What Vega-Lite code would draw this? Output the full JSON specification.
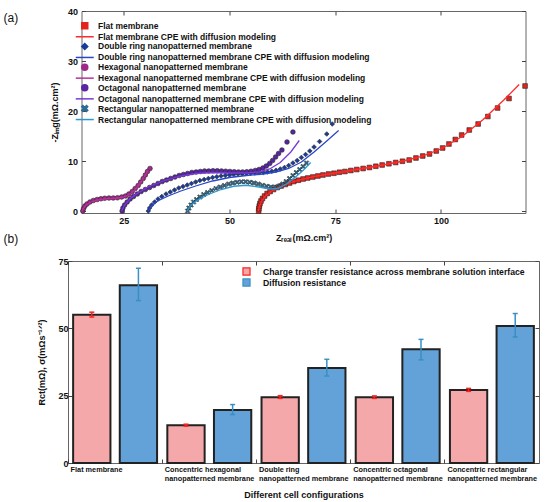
{
"$schema": "https://vega.github.io/schema/vega-lite/v6.json",
"padding": {"left": 2, "top": 6, "right": 0, "bottom": 0},
"bounds": "flush",
"center": true,
"spacing": 48,
"resolve": {"scale": {"color": "independent", "fill": "independent", "shape": "independent"}, "legend": {"color": "independent", "fill": "independent", "shape": "independent"}},
"config": {
 "font": "Liberation Sans",
 "view": {"stroke": "#666", "strokeWidth": 1},
 "axis": {"grid": false, "domain": false, "tickColor": "#444", "labelColor": "#111", "titleColor": "#111", "labelFont": "Liberation Sans", "titleFont": "Liberation Sans", "labelFontWeight": "bold", "titleFontWeight": "bold"}
},
"datasets": {
 "pts": [
  {"s":"Flat membrane","x":56.9,"y":0},{"s":"Flat membrane","x":56.95,"y":0.5},{"s":"Flat membrane","x":57.05,"y":1},{"s":"Flat membrane","x":57.2,"y":1.5},{"s":"Flat membrane","x":57.45,"y":2},{"s":"Flat membrane","x":57.8,"y":2.5},{"s":"Flat membrane","x":58.3,"y":3},{"s":"Flat membrane","x":58.9,"y":3.5},{"s":"Flat membrane","x":59.6,"y":3.9},{"s":"Flat membrane","x":60.4,"y":4.3},{"s":"Flat membrane","x":61.3,"y":4.7},{"s":"Flat membrane","x":62.2,"y":5},{"s":"Flat membrane","x":63.2,"y":5.3},{"s":"Flat membrane","x":64.2,"y":5.6},{"s":"Flat membrane","x":65.2,"y":5.9},{"s":"Flat membrane","x":66.3,"y":6.15},{"s":"Flat membrane","x":67.4,"y":6.4},{"s":"Flat membrane","x":68.5,"y":6.6},{"s":"Flat membrane","x":69.7,"y":6.8},{"s":"Flat membrane","x":70.9,"y":7},{"s":"Flat membrane","x":72.1,"y":7.2},{"s":"Flat membrane","x":73.4,"y":7.4},{"s":"Flat membrane","x":74.7,"y":7.55},{"s":"Flat membrane","x":76,"y":7.75},{"s":"Flat membrane","x":77.3,"y":7.9},{"s":"Flat membrane","x":78.7,"y":8.1},{"s":"Flat membrane","x":80.1,"y":8.3},{"s":"Flat membrane","x":81.6,"y":8.5},{"s":"Flat membrane","x":83.1,"y":8.7},{"s":"Flat membrane","x":84.6,"y":8.95},{"s":"Flat membrane","x":86.1,"y":9.2},{"s":"Flat membrane","x":87.7,"y":9.45},{"s":"Flat membrane","x":89.3,"y":9.7},{"s":"Flat membrane","x":90.9,"y":9.95},{"s":"Flat membrane","x":92.5,"y":10.2},{"s":"Flat membrane","x":94.1,"y":10.6},{"s":"Flat membrane","x":95.7,"y":11},{"s":"Flat membrane","x":97.3,"y":11.4},{"s":"Flat membrane","x":98.9,"y":12},{"s":"Flat membrane","x":100.4,"y":12.6},{"s":"Flat membrane","x":101.9,"y":13.4},{"s":"Flat membrane","x":103.4,"y":14.3},{"s":"Flat membrane","x":104.9,"y":15.2},{"s":"Flat membrane","x":106.7,"y":16.2},{"s":"Flat membrane","x":108.8,"y":17.4},{"s":"Flat membrane","x":111.1,"y":18.9},{"s":"Flat membrane","x":113.4,"y":20.6},{"s":"Flat membrane","x":116.1,"y":22.5},{"s":"Flat membrane","x":119.9,"y":25},
  {"s":"Double ring nanopatterned membrane","x":30.8,"y":0},{"s":"Double ring nanopatterned membrane","x":31.1,"y":0.6},{"s":"Double ring nanopatterned membrane","x":31.6,"y":1.2},{"s":"Double ring nanopatterned membrane","x":32.3,"y":1.8},{"s":"Double ring nanopatterned membrane","x":33.1,"y":2.4},{"s":"Double ring nanopatterned membrane","x":34,"y":2.9},{"s":"Double ring nanopatterned membrane","x":35,"y":3.4},{"s":"Double ring nanopatterned membrane","x":36,"y":3.8},{"s":"Double ring nanopatterned membrane","x":37,"y":4.2},{"s":"Double ring nanopatterned membrane","x":38,"y":4.6},{"s":"Double ring nanopatterned membrane","x":39,"y":4.9},{"s":"Double ring nanopatterned membrane","x":40,"y":5.2},{"s":"Double ring nanopatterned membrane","x":41,"y":5.5},{"s":"Double ring nanopatterned membrane","x":42,"y":5.8},{"s":"Double ring nanopatterned membrane","x":43,"y":6.1},{"s":"Double ring nanopatterned membrane","x":44,"y":6.3},{"s":"Double ring nanopatterned membrane","x":45,"y":6.5},{"s":"Double ring nanopatterned membrane","x":46,"y":6.7},{"s":"Double ring nanopatterned membrane","x":47,"y":6.85},{"s":"Double ring nanopatterned membrane","x":48,"y":7},{"s":"Double ring nanopatterned membrane","x":49,"y":7.1},{"s":"Double ring nanopatterned membrane","x":50,"y":7.2},{"s":"Double ring nanopatterned membrane","x":51,"y":7.3},{"s":"Double ring nanopatterned membrane","x":52,"y":7.4},{"s":"Double ring nanopatterned membrane","x":53,"y":7.45},{"s":"Double ring nanopatterned membrane","x":54,"y":7.5},{"s":"Double ring nanopatterned membrane","x":55,"y":7.55},{"s":"Double ring nanopatterned membrane","x":56,"y":7.6},{"s":"Double ring nanopatterned membrane","x":57,"y":7.65},{"s":"Double ring nanopatterned membrane","x":58,"y":7.7},{"s":"Double ring nanopatterned membrane","x":59,"y":7.8},{"s":"Double ring nanopatterned membrane","x":60,"y":7.95},{"s":"Double ring nanopatterned membrane","x":61,"y":8.15},{"s":"Double ring nanopatterned membrane","x":62,"y":8.4},{"s":"Double ring nanopatterned membrane","x":63,"y":8.7},{"s":"Double ring nanopatterned membrane","x":64,"y":9.1},{"s":"Double ring nanopatterned membrane","x":65,"y":9.6},{"s":"Double ring nanopatterned membrane","x":66,"y":10.1},{"s":"Double ring nanopatterned membrane","x":67,"y":10.7},{"s":"Double ring nanopatterned membrane","x":68,"y":11.3},{"s":"Double ring nanopatterned membrane","x":69,"y":12},{"s":"Double ring nanopatterned membrane","x":70,"y":12.8},{"s":"Double ring nanopatterned membrane","x":71.3,"y":13.9},{"s":"Double ring nanopatterned membrane","x":73,"y":15.4},{"s":"Double ring nanopatterned membrane","x":74.3,"y":17.4},
  {"s":"Hexagonal nanopatterned membrane","x":15.3,"y":0},{"s":"Hexagonal nanopatterned membrane","x":15.5,"y":0.5},{"s":"Hexagonal nanopatterned membrane","x":15.8,"y":1},{"s":"Hexagonal nanopatterned membrane","x":16.3,"y":1.4},{"s":"Hexagonal nanopatterned membrane","x":17,"y":1.8},{"s":"Hexagonal nanopatterned membrane","x":17.8,"y":2.1},{"s":"Hexagonal nanopatterned membrane","x":18.7,"y":2.3},{"s":"Hexagonal nanopatterned membrane","x":19.6,"y":2.45},{"s":"Hexagonal nanopatterned membrane","x":20.5,"y":2.55},{"s":"Hexagonal nanopatterned membrane","x":21.5,"y":2.6},{"s":"Hexagonal nanopatterned membrane","x":22.5,"y":2.6},{"s":"Hexagonal nanopatterned membrane","x":23.5,"y":2.65},{"s":"Hexagonal nanopatterned membrane","x":24.5,"y":2.8},{"s":"Hexagonal nanopatterned membrane","x":25.4,"y":3},{"s":"Hexagonal nanopatterned membrane","x":26.2,"y":3.4},{"s":"Hexagonal nanopatterned membrane","x":27,"y":3.9},{"s":"Hexagonal nanopatterned membrane","x":27.7,"y":4.5},{"s":"Hexagonal nanopatterned membrane","x":28.4,"y":5.1},{"s":"Hexagonal nanopatterned membrane","x":29,"y":5.8},{"s":"Hexagonal nanopatterned membrane","x":29.6,"y":6.5},{"s":"Hexagonal nanopatterned membrane","x":30.1,"y":7.2},{"s":"Hexagonal nanopatterned membrane","x":30.6,"y":7.9},{"s":"Hexagonal nanopatterned membrane","x":31.2,"y":8.5},
  {"s":"Octagonal nanopatterned membrane","x":24.6,"y":0},{"s":"Octagonal nanopatterned membrane","x":24.8,"y":0.6},{"s":"Octagonal nanopatterned membrane","x":25.2,"y":1.2},{"s":"Octagonal nanopatterned membrane","x":25.8,"y":1.8},{"s":"Octagonal nanopatterned membrane","x":26.5,"y":2.4},{"s":"Octagonal nanopatterned membrane","x":27.3,"y":2.9},{"s":"Octagonal nanopatterned membrane","x":28.2,"y":3.4},{"s":"Octagonal nanopatterned membrane","x":29.1,"y":3.9},{"s":"Octagonal nanopatterned membrane","x":30.1,"y":4.3},{"s":"Octagonal nanopatterned membrane","x":31.1,"y":4.7},{"s":"Octagonal nanopatterned membrane","x":32.1,"y":5.1},{"s":"Octagonal nanopatterned membrane","x":33.1,"y":5.5},{"s":"Octagonal nanopatterned membrane","x":34.1,"y":5.9},{"s":"Octagonal nanopatterned membrane","x":35.1,"y":6.2},{"s":"Octagonal nanopatterned membrane","x":36.1,"y":6.5},{"s":"Octagonal nanopatterned membrane","x":37.1,"y":6.8},{"s":"Octagonal nanopatterned membrane","x":38.1,"y":7.1},{"s":"Octagonal nanopatterned membrane","x":39.1,"y":7.3},{"s":"Octagonal nanopatterned membrane","x":40.1,"y":7.5},{"s":"Octagonal nanopatterned membrane","x":41.1,"y":7.7},{"s":"Octagonal nanopatterned membrane","x":42.1,"y":7.8},{"s":"Octagonal nanopatterned membrane","x":43.1,"y":7.9},{"s":"Octagonal nanopatterned membrane","x":44.1,"y":8},{"s":"Octagonal nanopatterned membrane","x":45.1,"y":8},{"s":"Octagonal nanopatterned membrane","x":46.1,"y":8.05},{"s":"Octagonal nanopatterned membrane","x":47.1,"y":8.05},{"s":"Octagonal nanopatterned membrane","x":48.1,"y":8},{"s":"Octagonal nanopatterned membrane","x":49.1,"y":7.95},{"s":"Octagonal nanopatterned membrane","x":50.1,"y":7.9},{"s":"Octagonal nanopatterned membrane","x":51.1,"y":7.85},{"s":"Octagonal nanopatterned membrane","x":52.1,"y":7.8},{"s":"Octagonal nanopatterned membrane","x":53.1,"y":7.8},{"s":"Octagonal nanopatterned membrane","x":54.1,"y":7.85},{"s":"Octagonal nanopatterned membrane","x":55.1,"y":7.95},{"s":"Octagonal nanopatterned membrane","x":56.1,"y":8.1},{"s":"Octagonal nanopatterned membrane","x":57,"y":8.3},{"s":"Octagonal nanopatterned membrane","x":57.9,"y":8.6},{"s":"Octagonal nanopatterned membrane","x":58.7,"y":9},{"s":"Octagonal nanopatterned membrane","x":59.5,"y":9.5},{"s":"Octagonal nanopatterned membrane","x":60.2,"y":10.1},{"s":"Octagonal nanopatterned membrane","x":60.9,"y":10.8},{"s":"Octagonal nanopatterned membrane","x":61.6,"y":11.5},{"s":"Octagonal nanopatterned membrane","x":62.4,"y":12.2},{"s":"Octagonal nanopatterned membrane","x":63.6,"y":13.8},{"s":"Octagonal nanopatterned membrane","x":65,"y":15.8},
  {"s":"Rectangular nanopatterned membrane","x":40.1,"y":0},{"s":"Rectangular nanopatterned membrane","x":40.4,"y":0.6},{"s":"Rectangular nanopatterned membrane","x":40.9,"y":1.2},{"s":"Rectangular nanopatterned membrane","x":41.5,"y":1.8},{"s":"Rectangular nanopatterned membrane","x":42.2,"y":2.3},{"s":"Rectangular nanopatterned membrane","x":43,"y":2.8},{"s":"Rectangular nanopatterned membrane","x":43.9,"y":3.3},{"s":"Rectangular nanopatterned membrane","x":44.8,"y":3.7},{"s":"Rectangular nanopatterned membrane","x":45.8,"y":4.1},{"s":"Rectangular nanopatterned membrane","x":46.8,"y":4.5},{"s":"Rectangular nanopatterned membrane","x":47.8,"y":4.8},{"s":"Rectangular nanopatterned membrane","x":48.8,"y":5.1},{"s":"Rectangular nanopatterned membrane","x":49.8,"y":5.4},{"s":"Rectangular nanopatterned membrane","x":50.8,"y":5.6},{"s":"Rectangular nanopatterned membrane","x":51.8,"y":5.75},{"s":"Rectangular nanopatterned membrane","x":52.8,"y":5.85},{"s":"Rectangular nanopatterned membrane","x":53.8,"y":5.85},{"s":"Rectangular nanopatterned membrane","x":54.8,"y":5.75},{"s":"Rectangular nanopatterned membrane","x":55.8,"y":5.6},{"s":"Rectangular nanopatterned membrane","x":56.8,"y":5.4},{"s":"Rectangular nanopatterned membrane","x":57.8,"y":5.15},{"s":"Rectangular nanopatterned membrane","x":58.8,"y":4.95},{"s":"Rectangular nanopatterned membrane","x":59.8,"y":4.8},{"s":"Rectangular nanopatterned membrane","x":60.8,"y":4.8},{"s":"Rectangular nanopatterned membrane","x":61.8,"y":5},{"s":"Rectangular nanopatterned membrane","x":62.6,"y":5.4},{"s":"Rectangular nanopatterned membrane","x":63.4,"y":5.9},{"s":"Rectangular nanopatterned membrane","x":64.2,"y":6.5},{"s":"Rectangular nanopatterned membrane","x":65,"y":7.1},{"s":"Rectangular nanopatterned membrane","x":65.8,"y":7.7},{"s":"Rectangular nanopatterned membrane","x":66.6,"y":8.3},{"s":"Rectangular nanopatterned membrane","x":67.4,"y":8.9},{"s":"Rectangular nanopatterned membrane","x":68.2,"y":9.6}
 ],
 "fits": [
  {"s":"Flat membrane CPE with diffusion modeling","x":56.8,"y":0},{"s":"Flat membrane CPE with diffusion modeling","x":57.1,"y":1},{"s":"Flat membrane CPE with diffusion modeling","x":57.6,"y":2},{"s":"Flat membrane CPE with diffusion modeling","x":58.5,"y":3},{"s":"Flat membrane CPE with diffusion modeling","x":60,"y":4},{"s":"Flat membrane CPE with diffusion modeling","x":62.3,"y":5},{"s":"Flat membrane CPE with diffusion modeling","x":65.5,"y":6},{"s":"Flat membrane CPE with diffusion modeling","x":70,"y":6.9},{"s":"Flat membrane CPE with diffusion modeling","x":75,"y":7.6},{"s":"Flat membrane CPE with diffusion modeling","x":80,"y":8.3},{"s":"Flat membrane CPE with diffusion modeling","x":85,"y":9},{"s":"Flat membrane CPE with diffusion modeling","x":90,"y":9.8},{"s":"Flat membrane CPE with diffusion modeling","x":95,"y":10.8},{"s":"Flat membrane CPE with diffusion modeling","x":100,"y":12.4},{"s":"Flat membrane CPE with diffusion modeling","x":105,"y":14.9},{"s":"Flat membrane CPE with diffusion modeling","x":110,"y":18.3},{"s":"Flat membrane CPE with diffusion modeling","x":115,"y":22.3},{"s":"Flat membrane CPE with diffusion modeling","x":118.5,"y":25.3},
  {"s":"Double ring nanopatterned membrane CPE with diffusion modeling","x":30.8,"y":0},{"s":"Double ring nanopatterned membrane CPE with diffusion modeling","x":31.5,"y":1},{"s":"Double ring nanopatterned membrane CPE with diffusion modeling","x":33,"y":2},{"s":"Double ring nanopatterned membrane CPE with diffusion modeling","x":35.5,"y":3},{"s":"Double ring nanopatterned membrane CPE with diffusion modeling","x":38.5,"y":4},{"s":"Double ring nanopatterned membrane CPE with diffusion modeling","x":42,"y":5},{"s":"Double ring nanopatterned membrane CPE with diffusion modeling","x":46,"y":6},{"s":"Double ring nanopatterned membrane CPE with diffusion modeling","x":50,"y":6.7},{"s":"Double ring nanopatterned membrane CPE with diffusion modeling","x":54,"y":7.1},{"s":"Double ring nanopatterned membrane CPE with diffusion modeling","x":58,"y":7.4},{"s":"Double ring nanopatterned membrane CPE with diffusion modeling","x":61,"y":7.8},{"s":"Double ring nanopatterned membrane CPE with diffusion modeling","x":64,"y":8.5},{"s":"Double ring nanopatterned membrane CPE with diffusion modeling","x":67,"y":9.8},{"s":"Double ring nanopatterned membrane CPE with diffusion modeling","x":70,"y":11.8},{"s":"Double ring nanopatterned membrane CPE with diffusion modeling","x":73,"y":14},{"s":"Double ring nanopatterned membrane CPE with diffusion modeling","x":75.8,"y":16.1},
  {"s":"Hexagonal nanopatterned membrane CPE with diffusion modeling","x":15.2,"y":0},{"s":"Hexagonal nanopatterned membrane CPE with diffusion modeling","x":15.5,"y":0.6},{"s":"Hexagonal nanopatterned membrane CPE with diffusion modeling","x":16.1,"y":1.2},{"s":"Hexagonal nanopatterned membrane CPE with diffusion modeling","x":17.2,"y":1.8},{"s":"Hexagonal nanopatterned membrane CPE with diffusion modeling","x":18.8,"y":2.2},{"s":"Hexagonal nanopatterned membrane CPE with diffusion modeling","x":21,"y":2.45},{"s":"Hexagonal nanopatterned membrane CPE with diffusion modeling","x":23,"y":2.55},{"s":"Hexagonal nanopatterned membrane CPE with diffusion modeling","x":24.8,"y":2.75},{"s":"Hexagonal nanopatterned membrane CPE with diffusion modeling","x":26.3,"y":3.3},{"s":"Hexagonal nanopatterned membrane CPE with diffusion modeling","x":27.6,"y":4.2},{"s":"Hexagonal nanopatterned membrane CPE with diffusion modeling","x":28.8,"y":5.5},{"s":"Hexagonal nanopatterned membrane CPE with diffusion modeling","x":29.8,"y":6.8},{"s":"Hexagonal nanopatterned membrane CPE with diffusion modeling","x":30.8,"y":8.2},
  {"s":"Octagonal nanopatterned membrane CPE with diffusion modeling","x":24.5,"y":0},{"s":"Octagonal nanopatterned membrane CPE with diffusion modeling","x":25.2,"y":1.2},{"s":"Octagonal nanopatterned membrane CPE with diffusion modeling","x":26.4,"y":2.4},{"s":"Octagonal nanopatterned membrane CPE with diffusion modeling","x":28.3,"y":3.6},{"s":"Octagonal nanopatterned membrane CPE with diffusion modeling","x":30.8,"y":4.8},{"s":"Octagonal nanopatterned membrane CPE with diffusion modeling","x":34,"y":5.9},{"s":"Octagonal nanopatterned membrane CPE with diffusion modeling","x":38,"y":6.9},{"s":"Octagonal nanopatterned membrane CPE with diffusion modeling","x":42,"y":7.5},{"s":"Octagonal nanopatterned membrane CPE with diffusion modeling","x":46,"y":7.7},{"s":"Octagonal nanopatterned membrane CPE with diffusion modeling","x":50,"y":7.6},{"s":"Octagonal nanopatterned membrane CPE with diffusion modeling","x":54,"y":7.6},{"s":"Octagonal nanopatterned membrane CPE with diffusion modeling","x":57,"y":7.8},{"s":"Octagonal nanopatterned membrane CPE with diffusion modeling","x":59.5,"y":8.4},{"s":"Octagonal nanopatterned membrane CPE with diffusion modeling","x":62,"y":9.7},{"s":"Octagonal nanopatterned membrane CPE with diffusion modeling","x":64.5,"y":11.8},{"s":"Octagonal nanopatterned membrane CPE with diffusion modeling","x":66.5,"y":14.1},
  {"s":"Rectangular nanopatterned membrane CPE with diffusion modeling","x":40,"y":0},{"s":"Rectangular nanopatterned membrane CPE with diffusion modeling","x":40.8,"y":1.1},{"s":"Rectangular nanopatterned membrane CPE with diffusion modeling","x":42.5,"y":2.2},{"s":"Rectangular nanopatterned membrane CPE with diffusion modeling","x":45,"y":3.3},{"s":"Rectangular nanopatterned membrane CPE with diffusion modeling","x":48,"y":4.3},{"s":"Rectangular nanopatterned membrane CPE with diffusion modeling","x":51,"y":4.95},{"s":"Rectangular nanopatterned membrane CPE with diffusion modeling","x":54,"y":5.15},{"s":"Rectangular nanopatterned membrane CPE with diffusion modeling","x":57,"y":4.8},{"s":"Rectangular nanopatterned membrane CPE with diffusion modeling","x":59.5,"y":4.4},{"s":"Rectangular nanopatterned membrane CPE with diffusion modeling","x":61.5,"y":4.5},{"s":"Rectangular nanopatterned membrane CPE with diffusion modeling","x":63.5,"y":5.4},{"s":"Rectangular nanopatterned membrane CPE with diffusion modeling","x":65.5,"y":6.7},{"s":"Rectangular nanopatterned membrane CPE with diffusion modeling","x":67.5,"y":8.2},{"s":"Rectangular nanopatterned membrane CPE with diffusion modeling","x":69.2,"y":9.7}
 ],
 "bars": [
  {"cfg":"Flat membrane","t":"Charge transfer resistance across membrane solution interface","v":55,"lo":54.2,"hi":56},
  {"cfg":"Flat membrane","t":"Diffusion resistance","v":66,"lo":60.3,"hi":72.3},
  {"cfg":"Concentric hexagonal nanopatterned membrane","t":"Charge transfer resistance across membrane solution interface","v":14,"lo":13.7,"hi":14.4},
  {"cfg":"Concentric hexagonal nanopatterned membrane","t":"Diffusion resistance","v":19.7,"lo":18,"hi":21.7},
  {"cfg":"Double ring nanopatterned membrane","t":"Charge transfer resistance across membrane solution interface","v":24.4,"lo":24,"hi":25},
  {"cfg":"Double ring nanopatterned membrane","t":"Diffusion resistance","v":35.3,"lo":32.3,"hi":38.5},
  {"cfg":"Concentric octagonal nanopatterned membrane","t":"Charge transfer resistance across membrane solution interface","v":24.4,"lo":24,"hi":24.9},
  {"cfg":"Concentric octagonal nanopatterned membrane","t":"Diffusion resistance","v":42.2,"lo":38.3,"hi":45.9},
  {"cfg":"Concentric rectangular nanopatterned membrane","t":"Charge transfer resistance across membrane solution interface","v":27.1,"lo":26.6,"hi":27.7},
  {"cfg":"Concentric rectangular nanopatterned membrane","t":"Diffusion resistance","v":50.9,"lo":46.8,"hi":55.5}
 ]
},
"vconcat": [
 {
  "width": 444, "height": 202,
  "title": {"text": "(a)", "anchor": "start", "frame": "group", "orient": "top", "fontSize": 12, "fontWeight": "normal", "font": "Liberation Sans", "color": "#111", "baseline": "middle", "offset": 0, "dx": -78, "dy": 23},
  "layer": [
   {
    "data": {"name": "pts"},
    "mark": {"type": "point", "filled": true, "size": 22, "stroke": "#222", "strokeWidth": 0.6, "opacity": 1},
    "encoding": {
     "x": {"field": "x", "type": "quantitative", "scale": {"domain": [15, 120], "nice": false, "zero": false},
       "axis": {"orient": "bottom", "values": [25, 50, 75, 100], "title": "Zᵣₑₐₗ(mΩ.cm²)", "tickSize": -4, "labelPadding": 7, "labelFontSize": 9, "titleFontSize": 9, "titlePadding": 8}},
     "y": {"field": "y", "type": "quantitative", "scale": {"domain": [-0.4, 40], "nice": false, "zero": false},
       "axis": {"orient": "left", "values": [0, 10, 20, 30, 40], "title": "-Zᵢₘg(mΩ.cm²)", "tickSize": -4, "labelPadding": 8, "labelFontSize": 9, "titleFontSize": 9, "titlePadding": 8}},
     "color": {"field": "s", "type": "nominal",
       "scale": {"domain": ["Flat membrane","Flat membrane CPE with diffusion modeling","Double ring nanopatterned membrane","Double ring nanopatterned membrane CPE with diffusion modeling","Hexagonal nanopatterned membrane","Hexagonal nanopatterned membrane CPE with diffusion modeling","Octagonal nanopatterned membrane","Octagonal nanopatterned membrane CPE with diffusion modeling","Rectangular nanopatterned membrane","Rectangular nanopatterned membrane CPE with diffusion modeling"],
                 "range": ["#e3231c","#ff2a2a","#1b3b9b","#2848c8","#a1288b","#b8329c","#5a25a5","#7a3ad6","#2b6c94","#2c98cf"]},
       "legend": {"title": null, "orient": "none", "legendX": -1, "legendY": 10.5, "padding": 0, "labelFont": "Liberation Sans", "labelFontSize": 8.5, "labelFontWeight": "bold", "labelColor": "#111", "labelLimit": 400, "symbolSize": 36, "rowPadding": -1.3, "labelOffset": 9, "symbolOpacity": 1,
         "encode": {"symbols": {"update": {
           "fill": [{"test": "indexof(datum.value,'CPE')>=0", "value": "transparent"}, {"scale": "color", "field": "value"}],
           "stroke": [{"test": "indexof(datum.value,'CPE')>=0", "scale": "color", "field": "value"}, {"value": "#222"}],
           "strokeWidth": [{"test": "indexof(datum.value,'CPE')>=0", "value": 1.6}, {"value": 0.6}]}}}}},
     "shape": {"field": "s", "type": "nominal",
       "scale": {"domain": ["Flat membrane","Flat membrane CPE with diffusion modeling","Double ring nanopatterned membrane","Double ring nanopatterned membrane CPE with diffusion modeling","Hexagonal nanopatterned membrane","Hexagonal nanopatterned membrane CPE with diffusion modeling","Octagonal nanopatterned membrane","Octagonal nanopatterned membrane CPE with diffusion modeling","Rectangular nanopatterned membrane","Rectangular nanopatterned membrane CPE with diffusion modeling"],
                 "range": ["square","M-3,0L3,0","diamond","M-3,0L3,0","circle","M-3,0L3,0","circle","M-3,0L3,0","M-1,-0.6L-0.6,-1L0,-0.4L0.6,-1L1,-0.6L0.4,0L1,0.6L0.6,1L0,0.4L-0.6,1L-1,0.6L-0.4,0Z","M-3,0L3,0"]},
       "legend": {"title": null, "orient": "none", "legendX": -1, "legendY": 10.5, "padding": 0, "labelFont": "Liberation Sans", "labelFontSize": 8.5, "labelFontWeight": "bold", "labelColor": "#111", "labelLimit": 400, "symbolSize": 36, "rowPadding": -1.3, "labelOffset": 9, "symbolOpacity": 1}}
    }
   },
   {
    "data": {"name": "fits"},
    "mark": {"type": "line", "strokeWidth": 1.3},
    "encoding": {
     "x": {"field": "x", "type": "quantitative", "axis": null},
     "y": {"field": "y", "type": "quantitative", "axis": null},
     "color": {"field": "s", "type": "nominal", "legend": null}
    }
   },
   {
    "data": {"values": [{}]},
    "mark": {"type": "point", "opacity": 0},
    "encoding": {
     "x": {"datum": 50, "type": "quantitative", "axis": {"orient": "top", "values": [25, 50, 75, 100], "labels": false, "title": null, "tickSize": -4}},
     "y": {"datum": 10, "type": "quantitative", "axis": {"orient": "right", "values": [0, 10, 20, 30, 40], "labels": false, "title": null, "tickSize": -4}}
    }
   }
  ],
  "resolve": {"axis": {"x": "independent", "y": "independent"}}
 },
 {
  "width": 471, "height": 202,
  "data": {"name": "bars"},
  "layer": [
   {
    "mark": {"type": "bar", "stroke": "#222", "strokeWidth": 2},
    "encoding": {
     "x": {"field": "cfg", "type": "nominal", "sort": null, "scale": {"paddingInner": 0, "paddingOuter": 0},
       "axis": {"orient": "bottom", "title": "Different cell configurations", "bandPosition": 0, "labelAngle": 0, "labelAlign": "left", "labelBaseline": "top", "labelOffset": -44.5, "labelPadding": 6, "tickSize": -4, "labelFontSize": 7.3, "labelLineHeight": 9.5, "labelOverlap": false, "labelBound": false, "labelLimit": 200, "titleFontSize": 9, "titlePadding": 9,
         "labelExpr": "indexof(datum.label,' nanopatterned')>0 ? [substring(datum.label,0,indexof(datum.label,' nanopatterned')), 'nanopatterned membrane'] : datum.label"}},
     "xOffset": {"field": "t", "type": "nominal", "sort": null, "scale": {"paddingInner": 0.2, "paddingOuter": 0.11}},
     "y": {"field": "v", "type": "quantitative", "scale": {"domain": [0, 75], "nice": false},
       "axis": {"orient": "left", "values": [0, 25, 50, 75], "title": "Rct(mΩ), σ(mΩs⁻¹ᐟ²)", "tickSize": -4, "labelPadding": 4, "labelFontSize": 9, "titleFontSize": 9, "titlePadding": 11}},
     "fill": {"field": "t", "type": "nominal", "sort": null,
       "scale": {"domain": ["Charge transfer resistance across membrane solution interface", "Diffusion resistance"], "range": ["#f5a8aa", "#62a2d8"]},
       "legend": {"title": null, "orient": "none", "legendX": 174, "legendY": 6, "padding": 0, "symbolType": "square", "symbolSize": 50, "symbolStrokeColor": "#222", "symbolStrokeWidth": 1.2, "symbolOpacity": 1, "labelFont": "Liberation Sans", "labelFontSize": 8.7, "labelFontWeight": "bold", "labelColor": "#111", "labelLimit": 400, "rowPadding": -3.5, "labelOffset": 12}}
    }
   },
   {
    "mark": {"type": "rule", "strokeWidth": 1.5},
    "encoding": {
     "x": {"field": "cfg", "type": "nominal", "sort": null, "axis": null},
     "xOffset": {"field": "t", "type": "nominal", "sort": null},
     "y": {"field": "lo", "type": "quantitative", "axis": null},
     "y2": {"field": "hi"},
     "color": {"field": "t", "type": "nominal", "scale": {"domain": ["Charge transfer resistance across membrane solution interface", "Diffusion resistance"], "range": ["#ff1f1f", "#3a8fc4"]}, "legend": null}
    }
   },
   {
    "mark": {"type": "tick", "thickness": 1.5, "size": 5, "opacity": 1},
    "encoding": {
     "x": {"field": "cfg", "type": "nominal", "sort": null, "axis": null},
     "xOffset": {"field": "t", "type": "nominal", "sort": null},
     "y": {"field": "lo", "type": "quantitative", "axis": null},
     "color": {"field": "t", "type": "nominal", "legend": null}
    }
   },
   {
    "mark": {"type": "tick", "thickness": 1.5, "size": 5, "opacity": 1},
    "encoding": {
     "x": {"field": "cfg", "type": "nominal", "sort": null, "axis": null},
     "xOffset": {"field": "t", "type": "nominal", "sort": null},
     "y": {"field": "hi", "type": "quantitative", "axis": null},
     "color": {"field": "t", "type": "nominal", "legend": null}
    }
   },
   {
    "mark": {"type": "bar", "opacity": 0},
    "encoding": {
     "x": {"field": "cfg", "type": "nominal", "sort": null, "axis": {"orient": "top", "bandPosition": 0, "labels": false, "tickSize": -4, "title": "(b)", "titleX": -65, "titleY": -23, "titleAlign": "left", "titleBaseline": "middle", "titleAngle": 0, "titleFontSize": 12, "titleFontWeight": "normal", "titleFont": "Liberation Sans"}},
     "y": {"field": "v", "type": "quantitative", "axis": {"orient": "right", "values": [0, 25, 50, 75], "labels": false, "title": null, "tickSize": -4}}
    }
   }
  ],
  "resolve": {"axis": {"x": "independent", "y": "independent"}}
 }
]
}
